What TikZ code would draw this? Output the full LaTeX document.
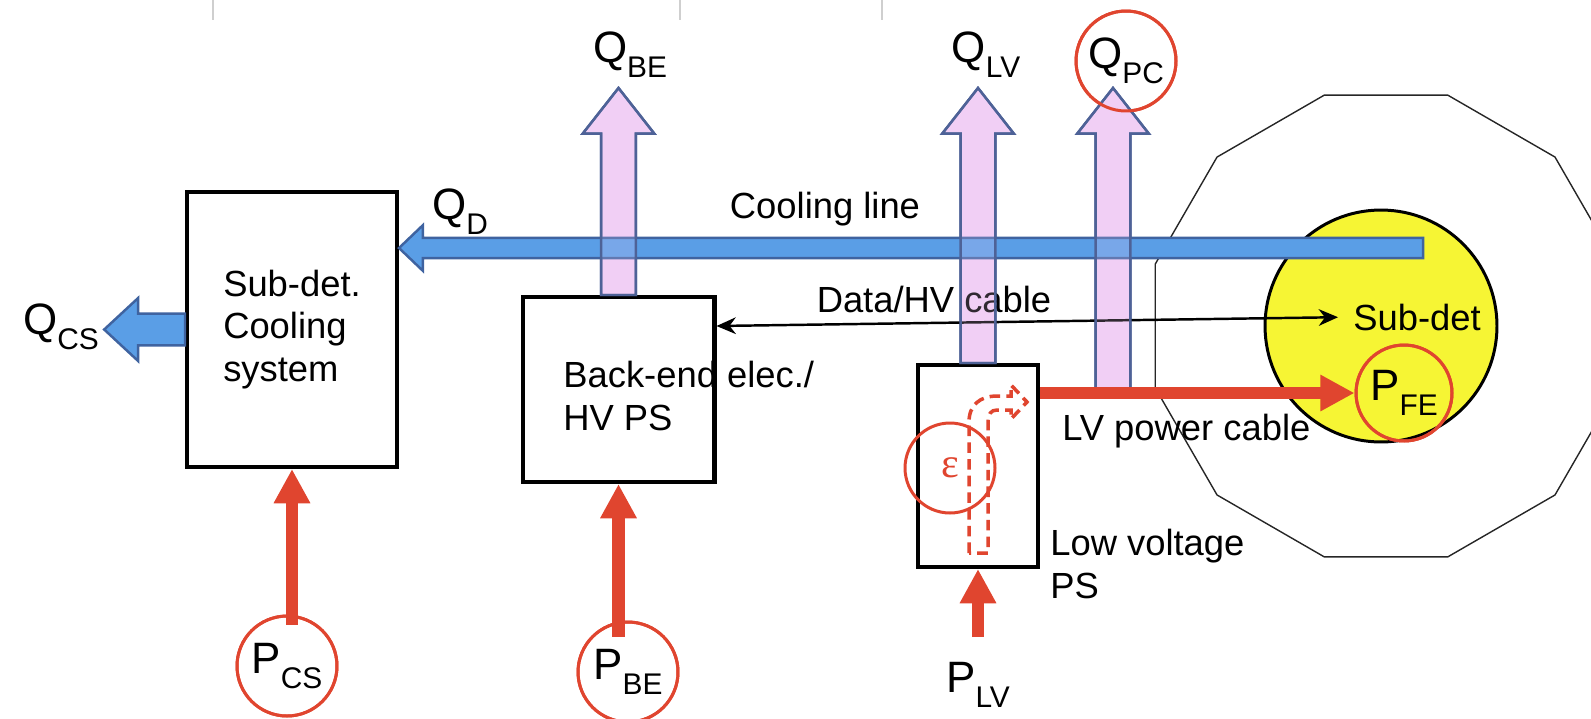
\documentclass[tikz,border=0pt]{standalone}
\usepackage{fontspec}
\setmainfont{Liberation Sans}
\newfontfamily\epsfont{Liberation Serif}
\usepackage{tikz}
\usetikzlibrary{positioning,arrows.meta,calc,shapes.geometric}
\definecolor{pred}{HTML}{E0452F}
\definecolor{heatfill}{HTML}{F1CFF5}
\definecolor{heatline}{HTML}{4E6297}
\definecolor{coolfill}{HTML}{5A9EE6}
\definecolor{coolline}{HTML}{3F63A0}
\definecolor{detfill}{HTML}{F6F534}
\definecolor{rulegray}{HTML}{CFCFCF}
\newcommand{\withsub}[2]{#1\raisebox{-8.5pt}{\fontsize{17}{17}\selectfont #2}}

\begin{document}
\begin{tikzpicture}[x=0.02cm, y=-0.02cm,
    unitbox/.style={rectangle, draw, line width=2.3pt, fill=white,
    align=left, font=\fontsize{20.7}{24.4}\selectfont},
    bodytext/.style={inner sep=0pt, align=left,
    font=\fontsize{20.7}{24.4}\selectfont},
    qlabel/.style={inner sep=0pt, font=\fontsize{25}{28}\selectfont},
    redring/.style={circle, draw=pred, line width=1.7pt, inner sep=0pt,
    minimum size=2cm, font=\fontsize{25}{28}\selectfont},
    power/.style={draw=pred, line width=7pt,
    -{Triangle[length=19.5pt,width=19.5pt]}},
    datacable/.style={{Stealth[length=11pt,width=9.5pt]}-{Stealth[length=11pt,width=9.5pt]},
    line width=1.4pt},
    heatup/.style={draw=heatline, fill=heatfill, line width=1.4pt,
    to path={let \p1=(\tikztostart), \p2=(\tikztotarget) in
      (\x1-9.9pt,\y1) -- (\x1-9.9pt,\y2-26pt) -- (\x1-20.4pt,\y2-26pt)
      -- (\x1,\y2) -- (\x1+20.4pt,\y2-26pt) -- (\x1+9.9pt,\y2-26pt)
      -- (\x1+9.9pt,\y1) -- cycle}},
    flowleft/.style n args={3}{to path={let \p1=(\tikztostart),
      \p2=(\tikztotarget) in
      (\x1,\y1+#1) -- (\x2+#3,\y1+#1) -- (\x2+#3,\y1+#2) -- (\x2,\y1)
      -- (\x2+#3,\y1-#2) -- (\x2+#3,\y1-#1) -- (\x1,\y1-#1) -- cycle}},
    coolflow/.style={draw=coolline, fill=coolfill, line width=1.4pt,
    flowleft={5.8pt}{13pt}{13.6pt}},
    csflow/.style={draw=coolline, fill=coolfill, line width=1.4pt,
    flowleft={9pt}{17.9pt}{19.3pt}},
  ]
  \useasboundingbox (0,0) rectangle (1591,718);

  % Leftover table rules at the top
  \foreach \gx in {213,680,882}
  \draw[rulegray, line width=1.2pt] (\gx,0) -- (\gx,20);

  % Detector: barrel outline and sub-detector
  \node[regular polygon, regular polygon sides=12, draw=black!85,
  line width=0.8pt, minimum size=9.56cm, inner sep=0pt] (barrel)
  at (1386,326) {};
  \node[circle, draw, line width=1.7pt, fill=detfill, minimum size=4.64cm,
  inner sep=0pt] (det) at (1381,326) {};
  \node[bodytext] (subdet) at (1417,317) {Sub-det};

  % Boxes
  \node[unitbox, minimum width=4.2cm, minimum height=5.5cm] (cs)
  at (292,329.5) {Sub-det.\\Cooling\\system};
  \node[unitbox, minimum width=3.84cm, minimum height=3.7cm] (be)
  at (618.5,389.5) {};
  \node[bodytext, anchor=north west] (betext) at (563,361)
  {Back-end elec./\\HV PS};
  \node[unitbox, minimum width=2.4cm, minimum height=4.04cm] (lv)
  at (978,466) {};
  \node[bodytext, anchor=north west] (lvname) at (1050,529)
  {Low voltage\\PS};

  % Heat labels
  \node[qlabel] (qbe) at (630,55) {\withsub{Q}{BE}};
  \node[qlabel] (qlv) at (986,55) {\withsub{Q}{LV}};
  \node[redring] (qpc) at (1126,61) {\withsub{Q}{PC}};
  \node[qlabel] (qd) at (460,212) {\withsub{Q}{D}};
  \node[qlabel] (qcs) at (61,326.5) {\withsub{Q}{CS}};

  % Power labels
  \node[redring] (pcs) at (287,666) {\withsub{P}{CS}};
  \node[redring] (pbe) at (628,672) {\withsub{P}{BE}};
  \node[qlabel] (plv) at (978,685) {\withsub{P}{LV}};
  \node[redring, minimum size=1.92cm] (pfe) at (1404,393)
  {\withsub{P}{FE}};

  % Heat flows out of the electronics
  \coordinate (pcbase) at (1113,393);
  \coordinate (qbetip) at ($(qbe.center)+(0,33)$);
  \coordinate (qlvtip) at ($(qlv.center)+(0,33)$);
  \coordinate (qpctip) at ($(qpc.center)+(0,27)$);
  \foreach \from/\tip in {be.north/qbetip, lv.north/qlvtip, pcbase/qpctip}
  \draw[heatup] (\from) to (\tip);

  % Data and HV cable
  \draw[datacable, shorten >=8.5pt] (be.east |- det.center) -- (subdet.west);
  \node[bodytext] (dataname) at (934,299) {Data/HV cable};

  % Cooling line
  \coordinate (coolend) at (1423,248);
  \draw[coolflow] (coolend) to (cs.east);
  \node[bodytext] (coolname) at (825,209) {Cooling line};
  \draw[csflow] (cs.west) to ($(qcs.east)+(5,0)$);

  % heat flows seen through the cooling line
  \foreach \from/\tip in {be.north/qbetip, lv.north/qlvtip, pcbase/qpctip}
  \draw[heatup, fill opacity=0.2] (\from) to (\tip);
  \node[redring] at (qpc) {};

  % Power in
  \draw[power] ($(cs.south |- pcs.north)+(0,10)$) -- (cs.south);
  \draw[power] ($(be.south |- pbe.north)+(0,16)$) -- (be.south);
  \draw[power] ($(plv.north)+(0,-25)$) -- (lv.south);
  \draw[power] (lv.east |- pfe.west) -- (pfe.west);
  \node[bodytext, anchor=west] (cablename) at (1062,431) {LV power cable};
  \node[redring] at (pcs) {};
  \node[redring] at (pbe) {};
  \node[redring, minimum size=1.92cm] at (pfe) {};

  % Conversion loss inside the LV supply
  \draw[pred, line width=2pt, dash pattern=on 6pt off 3.5pt]
  (969,553) -- (969,422) .. controls (969,405) and (980,396) .. (997,396)
  -- (1011,396) -- (1011,385) -- (1027,402) -- (1011,419) -- (1011,410)
  -- (997,410) .. controls (991,410) and (988,414) .. (988,422)
  -- (988,553) -- cycle;
  \node[redring, minimum size=1.8cm, text=pred,
  font=\epsfont\fontsize{24}{24}\selectfont] (eps) at (950,468) {ε};
\end{tikzpicture}
\end{document}
